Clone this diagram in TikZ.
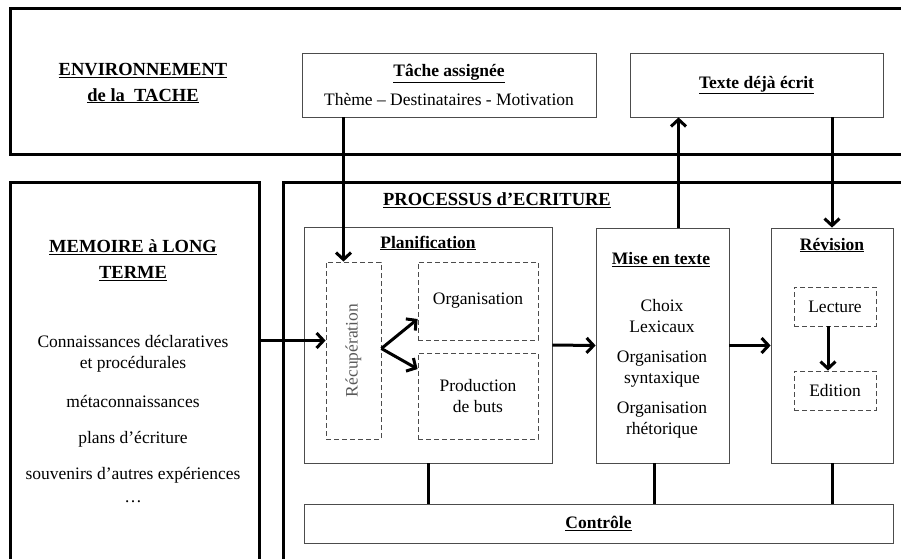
\documentclass[tikz,border=0pt]{standalone}
\usepackage{fontspec}
\setmainfont{Liberation Serif}
\usetikzlibrary{arrows.meta,positioning}
\newcommand\corps{\fontsize{17.5}{21}\selectfont}
\newcommand\titre{\fontsize{18.5}{26}\selectfont\bfseries}
\tikzset{
    %Define standard arrow tip
    >={Straight Barb[length=7pt,width=15pt]},
    %Define size of boxes
    taille/.style 2 args={
           minimum width=#1pt,
           minimum height=#2pt,
           inner sep=0pt},
    %Define style for the big frames
    zone/.style={
           rectangle,
           draw=black, line width=3pt},
    %Define style for boxes
    bloc/.style={
           rectangle,
           draw=black!70, line width=0.8pt,
           font=\corps,
           align=center},
    sousbloc/.style={
           rectangle,
           draw=black!70, line width=0.8pt,
           dash pattern=on 5pt off 3pt,
           font=\corps,
           align=center},
    % Define arrow style
    fleche/.style={
           ->,
           line width=3pt},
    lien/.style={
           line width=3pt}
}
\begin{document}
\begin{tikzpicture}[x=1pt,y=-1pt]
\useasboundingbox (0,0) rectangle (901,558);
\clip (0,0) rectangle (901,558);
% cadres
\node[zone, taille={895}{146}] (env) at (457.5,81) {};
\node[zone, taille={249}{388}] (memoire) at (134.5,376) {};
\node[zone, taille={627}{388}] (processus) at (596.5,376) {};
\node[font=\titre, align=center] (envtitre) at (143,83)
    {\underline{ENVIRONNEMENT}\\\underline{de la\ \ TACHE}};
\node[font=\titre, align=center] (memtitre) at (133,260)
    {\underline{MEMOIRE à LONG}\\\underline{TERME}};
\node[font=\titre] (proctitre) at (497,200) {\underline{PROCESSUS d’ECRITURE}};
% environnement
\node[bloc, taille={294}{64}] (tache) at (449,85)
    {{\bfseries\underline{Tâche assignée}}\\[8pt]Thème – Destinataires - Motivation};
\node[bloc, taille={253}{64}, font=\corps\bfseries] (texte) at (756.5,85) {\underline{Texte déjà écrit}};
% memoire
\node[font=\corps, align=center] (connaissances) at (133,419)
    {Connaissances déclaratives\\et procédurales\\[18pt]métaconnaissances\\[15pt]plans d’écriture\\[15pt]souvenirs d’autres expériences\\[2pt]\dots};
% processus
\node[bloc, taille={248}{236}] (planif) at (428,345) {};
\node[bloc, taille={133}{235}] (mise) at (662.5,345.5) {};
\node[bloc, taille={122}{235}] (revision) at (832,345.5) {};
\node[bloc, taille={589}{39}, font=\corps\bfseries] (controle) at (598.5,523.5) {\underline{Contrôle}};
\node[font=\corps\bfseries] (planiftitre) at (428,243) {\underline{Planification}};
\node[font=\corps\bfseries] (misetitre) at (661,260) {\underline{Mise en texte}};
\node[font=\corps\bfseries] (revtitre) at (832,245) {\underline{Révision}};
\node[sousbloc, taille={55}{177}] (recup) at (353.5,350.5) {};
\node[rotate=90, font=\corps, text=black!65] at (recup) {Récupération};
\node[sousbloc, taille={120}{78}] (orga) at (478,301) {Organisation};
\node[sousbloc, taille={120}{86}] (prod) at (478,396) {Production\\de buts};
\node[font=\corps, align=center] (choix) at (662,369)
    {Choix\\Lexicaux\\[9pt]Organisation\\syntaxique\\[9pt]Organisation\\rhétorique};
\node[sousbloc, taille={82}{39}] (lecture) at (835,306.5) {Lecture};
\node[sousbloc, taille={82}{39}] (edition) at (835,390.5) {Edition};
% connecteurs
\coordinate (ta) at ([xshift=-10pt]recup.north);
\coordinate (mt) at ([xshift=16pt]mise.north);
\coordinate (me) at ([yshift=10pt]recup.west);
\coordinate (le) at ([xshift=-7pt]lecture.south);
\coordinate (mc) at ([xshift=-8pt]mise.south);
\draw[fleche] (ta |- tache.south) -- (ta);
\draw[fleche] (mt) -- (mt |- texte.south);
\draw[fleche] (texte.south -| revision) -- (revision.north);
\draw[fleche] (me -| memoire.east) -- (me);
\draw[fleche] ([yshift=2pt]recup.east) -- ([yshift=-18pt]orga.west);
\draw[fleche] ([yshift=2pt]recup.east) -- ([yshift=27pt]prod.west);
\draw[fleche] (planif.east) -- (mise.west);
\draw[fleche] (mise.east) -- (revision.west);
\draw[fleche] (le) -- (le |- edition.north);
\draw[lien] (planif.south) -- (planif.south |- controle.north);
\draw[lien] (mc) -- (mc |- controle.north);
\draw[lien] (revision.south) -- (revision.south |- controle.north);
\end{tikzpicture}
\end{document}
